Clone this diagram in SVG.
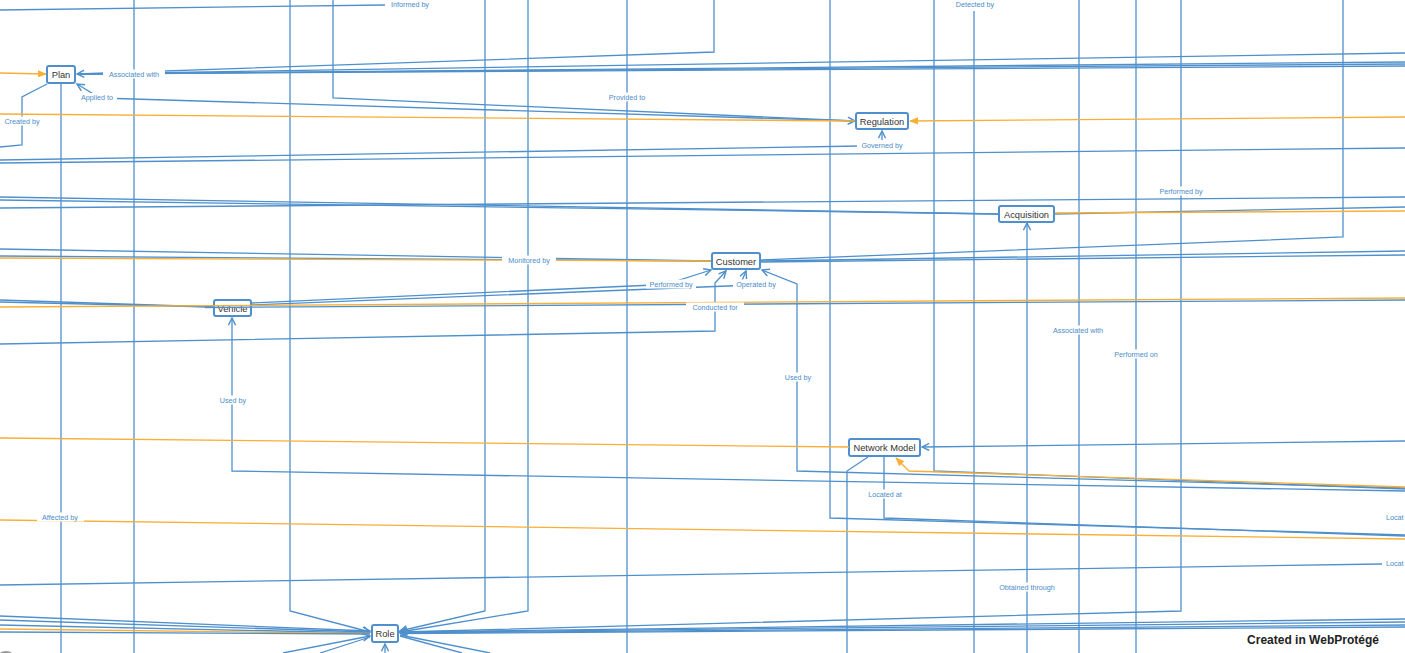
<svg xmlns="http://www.w3.org/2000/svg" width="1405" height="653" viewBox="0 0 1405 653">
<style>
.e{fill:none;stroke:#4f90cc;stroke-width:1.3}
.o{fill:none;stroke:#f9ae35;stroke-width:1.3}
.n rect{fill:#fff;stroke:#4f90cc;stroke-width:2}
.n text{font-family:"Liberation Sans",Arial,sans-serif;font-size:9.3px;fill:#333;text-anchor:middle}
.l rect{fill:#fff}
.l text{font-family:"Liberation Sans",Arial,sans-serif;font-size:7.2px;fill:#4a8cc9;text-anchor:middle}
.ls text{text-anchor:start}
.wm{font-family:"Liberation Sans",Arial,sans-serif;font-size:12px;font-weight:bold;fill:#222;text-anchor:middle}
</style>
<defs>
<marker id="ab" viewBox="0 0 10 10" refX="9" refY="5" markerWidth="9" markerHeight="9" markerUnits="userSpaceOnUse" orient="auto"><path d="M1,1 L9,5 L1,9" fill="none" stroke="#4f90cc" stroke-width="1.6"/></marker>
<marker id="ao" viewBox="0 0 10 10" refX="9" refY="5" markerWidth="9" markerHeight="9" markerUnits="userSpaceOnUse" orient="auto"><path d="M0,1 L10,5 L0,9 z" fill="#f9ae35"/></marker>
</defs>
<rect width="1405" height="653" fill="#fff"/>
<g id="nodes">
<g id="plan" class="n"><rect x="47" y="66" width="28" height="17" rx="2"/><text x="61" y="77.5">Plan</text></g>
<g id="regulation" class="n"><rect x="856" y="113" width="52" height="16" rx="2"/><text x="882" y="124.5">Regulation</text></g>
<g id="acquisition" class="n"><rect x="999" y="206" width="55" height="16" rx="2"/><text x="1026.5" y="217.5">Acquisition</text></g>
<g id="customer" class="n"><rect x="712" y="253" width="48" height="16" rx="2"/><text x="736" y="264.5">Customer</text></g>
<g id="vehicle" class="n"><rect x="214" y="300" width="37" height="16" rx="2"/><text x="232.5" y="311.5">Vehicle</text></g>
<g id="network-model" class="n"><rect x="849" y="439" width="71" height="17" rx="2"/><text x="884.5" y="451">Network Model</text></g>
<g id="role" class="n"><rect x="372" y="625" width="26" height="17" rx="2"/><text x="385" y="637">Role</text></g>
</g>
<g id="connectors">
<path class="e" d="M61,84 V653"/>
<path class="e" d="M134,0 V653"/>
<path class="e" d="M290,0 V611 L370,632" marker-end="url(#ab)"/>
<path class="e" d="M333,0 V98 L855,121" marker-end="url(#ab)"/>
<path class="e" d="M485,0 V611 L400,631" marker-end="url(#ab)"/>
<path class="e" d="M528,0 V611 L400,632" marker-end="url(#ab)"/>
<path class="e" d="M627,0 V653"/>
<path class="e" d="M714,0 V52 L77,74" marker-end="url(#ab)"/>
<path class="e" d="M830,0 V518 L1405,535"/>
<path class="e" d="M934,0 V471 L1405,489"/>
<path class="e" d="M974,11 V653"/>
<path class="e" d="M1079,0 V653"/>
<path class="e" d="M1136,0 V653"/>
<path class="e" d="M1181,0 V611 L400,632" marker-end="url(#ab)"/>
<path class="e" d="M1343,0 V237 L761,260"/>
<path class="e" d="M1405,488 L797,471 V284 L762,270" marker-end="url(#ab)"/>
<path class="e" d="M1405,491 L232,471 V318" marker-end="url(#ab)"/>
<path class="e" d="M1405,536 L884,518 V457"/>
<path class="e" d="M868,457 L847,471 V653"/>
<path class="e" d="M1027,653 V223" marker-end="url(#ab)"/>
<path class="e" d="M0,10 L385,5"/>
<path class="e" d="M1405,53 L77,74"/>
<path class="e" d="M1405,62 L77,74"/>
<path class="e" d="M1405,64 L77,74"/>
<path class="e" d="M1405,66 L77,74"/>
<path class="e" d="M855,121 L100,98 L77,84" marker-end="url(#ab)"/>
<path class="e" d="M47,84 L22,97 V145 L0,147"/>
<path class="o" d="M0,73 L46,74" marker-end="url(#ao)"/>
<path class="o" d="M0,114 L855,121"/>
<path class="o" d="M1405,117 L910,121" marker-end="url(#ao)"/>
<path class="e" d="M0,160 L860,146"/>
<path class="e" d="M882,140 V131" marker-end="url(#ab)"/>
<path class="e" d="M0,163 L1405,148"/>
<path class="e" d="M0,197 L998,214"/>
<path class="e" d="M0,200 L998,214"/>
<path class="e" d="M0,208 L1405,197"/>
<path class="e" d="M1055,214 L1405,207"/>
<path class="o" d="M1055,213 L1405,211"/>
<path class="e" d="M0,249 L711,261"/>
<path class="e" d="M0,256 L711,261"/>
<path class="o" d="M0,258 L711,261"/>
<path class="e" d="M761,261 L1405,251"/>
<path class="e" d="M761,262 L1405,255"/>
<path class="e" d="M251,303 L665,284.5 L711,270" marker-end="url(#ab)"/>
<path class="e" d="M251,305 L740,285.5 L746,271" marker-end="url(#ab)"/>
<path class="e" d="M0,344 L715,331 V283 L726,271" marker-end="url(#ab)"/>
<path class="e" d="M0,300 L214,307"/>
<path class="e" d="M0,302 L214,307"/>
<path class="o" d="M0,307 L1405,298"/>
<path class="e" d="M205,307.5 L1405,300"/>
<path class="o" d="M0,438 L849,447"/>
<path class="e" d="M1405,441 L922,447" marker-end="url(#ab)"/>
<path class="o" d="M1405,487 L909,471 L896,458" marker-end="url(#ao)"/>
<path class="o" d="M0,520 L1405,539"/>
<path class="e" d="M0,585 L1382,564"/>
<path class="e" d="M0,616 L370,631" marker-end="url(#ab)"/>
<path class="e" d="M0,620 L370,632"/>
<path class="e" d="M0,625 L370,633"/>
<path class="o" d="M0,629 L370,633.5"/>
<path class="e" d="M0,632 L370,634"/>
<path class="e" d="M283,653 L370,636" marker-end="url(#ab)"/>
<path class="e" d="M320,653 L370,637"/>
<path class="e" d="M1405,619 L400,632"/>
<path class="e" d="M1405,622 L400,632.5"/>
<path class="e" d="M1405,625 L400,633" marker-end="url(#ab)"/>
<path class="e" d="M1405,627 L400,633.5" stroke-width="2"/>
<path class="e" d="M400,635 L490,653"/>
<path class="e" d="M400,636 L462,653"/>
<path class="e" d="M385,653 V644" marker-end="url(#ab)"/>
<g class="l"><rect x="386" y="0" width="48" height="9"/><text x="410" y="7">Informed by</text></g>
<g class="l"><rect x="951" y="0" width="48" height="10"/><text x="975" y="7">Detected by</text></g>
<g class="l"><rect x="103" y="69.5" width="62" height="9"/><text x="134" y="76.5">Associated with</text></g>
<g class="l"><rect x="78" y="93" width="39" height="9"/><text x="97" y="100">Applied to</text></g>
<g class="l"><rect x="1" y="116.5" width="42" height="9"/><text x="22" y="123.5">Created by</text></g>
<g class="l"><rect x="604" y="92.5" width="46" height="9"/><text x="627" y="99.5">Provided to</text></g>
<g class="l"><rect x="857" y="140.5" width="50" height="9"/><text x="882" y="147.5">Governed by</text></g>
<g class="l"><rect x="1155" y="186.5" width="52" height="9"/><text x="1181" y="193.5">Performed by</text></g>
<g class="l"><rect x="502" y="255.5" width="54" height="9"/><text x="529" y="262.5">Monitored by</text></g>
<g class="l"><rect x="646" y="279.5" width="50" height="9"/><text x="671" y="286.5">Performed by</text></g>
<g class="l"><rect x="733" y="279.5" width="46" height="9"/><text x="756" y="286.5">Operated by</text></g>
<g class="l"><rect x="686" y="302.5" width="58" height="9"/><text x="715" y="309.5">Conducted for</text></g>
<g class="l"><rect x="216" y="395.5" width="34" height="9"/><text x="233" y="402.5">Used by</text></g>
<g class="l"><rect x="781" y="372.5" width="34" height="9"/><text x="798" y="379.5">Used by</text></g>
<g class="l"><rect x="1048" y="325.5" width="60" height="9"/><text x="1078" y="332.5">Associated with</text></g>
<g class="l"><rect x="1110" y="349.5" width="52" height="9"/><text x="1136" y="356.5">Performed on</text></g>
<g class="l"><rect x="864" y="489.5" width="42" height="9"/><text x="885" y="496.5">Located at</text></g>
<g class="l"><rect x="37" y="512.5" width="47" height="9"/><text x="60" y="519.5">Affected by</text></g>
<g class="l"><rect x="994" y="582.5" width="66" height="9"/><text x="1027" y="589.5">Obtained through</text></g>
<g class="l ls"><rect x="1383" y="512.5" width="22" height="9"/><text x="1386" y="519.5">Locat</text></g>
<g class="l ls"><rect x="1383" y="558.5" width="22" height="9"/><text x="1386" y="565.5">Locat</text></g>
</g>
<text class="wm" x="1313" y="644">Created in WebProtégé</text>
<circle cx="6" cy="662" r="11" fill="#9a9a9a"/>
</svg>
